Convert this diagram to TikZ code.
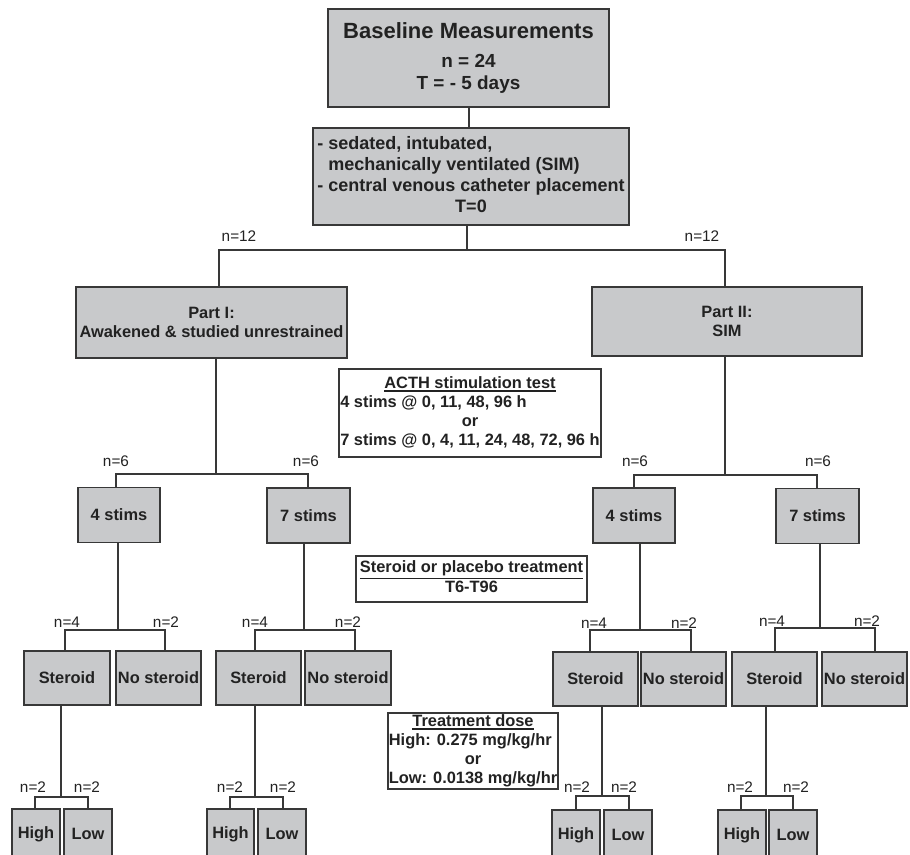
\documentclass[tikz,border=0pt]{standalone}
\usepackage{fontspec}
\setmainfont{Liberation Sans}
\definecolor{boxg}{HTML}{C8C9CB}
\definecolor{linec}{HTML}{383838}
\definecolor{txt}{HTML}{222222}
\newcommand\thickul[1]{\leavevmode\vtop{\hbox{#1}\kern1.1pt\hrule height 1.3pt}}
\tikzset{
  bw/.style={minimum width=#1*0.75pt},
  bh/.style={minimum height=#1*0.75pt},
  gbox/.style={draw=linec, fill=boxg, line width=1.3pt, inner sep=0pt, align=center, text=txt,
    font=\bfseries\fontsize{12.3}{14.25}\selectfont},
  wbox/.style={draw=linec, fill=white, line width=1.2pt, inner sep=0pt, text=txt,
    font=\bfseries\fontsize{12.3}{14.25}\selectfont},
  lbl/.style={inner sep=0pt, text=txt, font=\fontsize{11.5}{13}\selectfont},
  conn/.style={draw=linec, line width=1.1pt},
}
\begin{document}
\begin{tikzpicture}[x=0.75pt, y=-0.75pt]
\useasboundingbox (0,0) rectangle (910,855);
\clip (0,0) rectangle (910,855);

% ---------- top ----------
\node[gbox, bw=281, bh=98, font=\bfseries\fontsize{14.2}{16.5}\selectfont] (base) at (468.5,58)
  {{\fontsize{16.5}{20}\selectfont Baseline Measurements}\\[5.5pt] n = 24\\T = - 5 days};
\node[gbox, bw=316, bh=97, font=\bfseries\fontsize{13.5}{15.75}\selectfont] (sim) at (471,176.5)
  {\begin{tabular}{@{}l@{}}- sedated, intubated,\\\phantom{- }mechanically ventilated (SIM)\\- central venous catheter placement\\\multicolumn{1}{@{}c@{}}{T=0}\end{tabular}};
\draw[conn] (base.south -| 469,0) -- (sim.north -| 469,0);

\coordinate (j0) at (467,250);
\coordinate (dL) at (219,250);
\coordinate (dR) at (725,250);
\node[lbl] (n12a) at (239,236) {n=12};
\node[lbl] (n12b) at (702,236) {n=12};

% ---------- parts ----------
\node[gbox, bw=271, bh=71] (p1) at (211.5,322.5) {Part I:\\Awakened \& studied unrestrained};
\node[gbox, bw=270, bh=69] (p2) at (727,321.5) {Part II:\\SIM};
\draw[conn] (sim.south -| j0) -- (j0);
\draw[conn] (p1.north -| dL) -- (dL) -- (dR) -- (p2.north -| dR);

\node[wbox, bw=262, bh=88] (acth) at (470,413)
  {\begin{tabular}{@{}l@{}}\multicolumn{1}{@{}c@{}}{\thickul{ACTH stimulation test}}\\4 stims @ 0, 11, 48, 96 h\\\multicolumn{1}{@{}c@{}}{or}\\7 stims @ 0, 4, 11, 24, 48, 72, 96 h\end{tabular}};

% ---------- stims ----------
\node[gbox, bw=82, bh=55] (s1) at (119,515) {4 stims};
\node[gbox, bw=83, bh=55] (s2) at (308.5,515.5) {7 stims};
\node[gbox, bw=82, bh=55] (s3) at (634,515.5) {4 stims};
\node[gbox, bw=83, bh=55] (s4) at (817.5,516) {7 stims};

\coordinate (k1) at (216,474);
\coordinate (k1a) at (116,474);
\coordinate (k1b) at (308,474);
\draw[conn] (p1.south -| k1) -- (k1);
\draw[conn] (s1.north -| k1a) -- (k1a) -- (k1b) -- (s2.north -| k1b);
\coordinate (k2) at (725,475);
\coordinate (k2a) at (634,475);
\coordinate (k2b) at (817,475);
\draw[conn] (p2.south -| k2) -- (k2);
\draw[conn] (s3.north -| k2a) -- (k2a) -- (k2b) -- (s4.north -| k2b);
\node[lbl] (n6a) at (116,461) {n=6};
\node[lbl] (n6b) at (306,461) {n=6};
\node[lbl] (n6c) at (635,461) {n=6};
\node[lbl] (n6d) at (818,461) {n=6};

\node[wbox, bw=231, bh=46] (plac) at (471.5,579)
  {\begin{tabular}{@{}c@{}}\thickul{Steroid or placebo treatment}\\T6-T96\end{tabular}};

% ---------- steroid level ----------
\node[gbox, bw=86, bh=54] (st1) at (67,678) {Steroid};
\node[gbox, bw=85, bh=54] (ns1) at (158.5,678) {No steroid};
\node[gbox, bw=85, bh=54] (st2) at (258.5,678) {Steroid};
\node[gbox, bw=86, bh=54] (ns2) at (348,678) {No steroid};
\node[gbox, bw=85, bh=54] (st3) at (595.5,679) {Steroid};
\node[gbox, bw=85, bh=54] (ns3) at (683.5,679) {No steroid};
\node[gbox, bw=85, bh=54] (st4) at (774.5,679) {Steroid};
\node[gbox, bw=85, bh=54] (ns4) at (864.5,679) {No steroid};

\coordinate (m1) at (118,630);  \coordinate (m1a) at (65,630);  \coordinate (m1b) at (165,630);
\coordinate (m2) at (304,630);  \coordinate (m2a) at (255,630); \coordinate (m2b) at (355,630);
\coordinate (m3) at (640,630);  \coordinate (m3a) at (590,630); \coordinate (m3b) at (691,630);
\coordinate (m4) at (820,628);  \coordinate (m4a) at (775,628); \coordinate (m4b) at (875,628);
\draw[conn] (s1.south -| m1) -- (m1);
\draw[conn] (st1.north -| m1a) -- (m1a) -- (m1b) -- (ns1.north -| m1b);
\draw[conn] (s2.south -| m2) -- (m2);
\draw[conn] (st2.north -| m2a) -- (m2a) -- (m2b) -- (ns2.north -| m2b);
\draw[conn] (s3.south -| m3) -- (m3);
\draw[conn] (st3.north -| m3a) -- (m3a) -- (m3b) -- (ns3.north -| m3b);
\draw[conn] (s4.south -| m4) -- (m4);
\draw[conn] (st4.north -| m4a) -- (m4a) -- (m4b) -- (ns4.north -| m4b);
\node[lbl] (n4a) at (67,622) {n=4};
\node[lbl] (n2a) at (166,622) {n=2};
\node[lbl] (n4b) at (255,622) {n=4};
\node[lbl] (n2b) at (348,622) {n=2};
\node[lbl] (n4c) at (594,623) {n=4};
\node[lbl] (n2c) at (684,623) {n=2};
\node[lbl] (n4d) at (772,621) {n=4};
\node[lbl] (n2d) at (867,621) {n=2};

\node[wbox, bw=170, bh=75] (dose) at (473,751)
  {\begin{tabular}{@{}l@{}}\multicolumn{1}{@{}c@{}}{\thickul{Treatment dose}}\\High: 0.275 mg/kg/hr\\\multicolumn{1}{@{}c@{}}{or}\\Low: 0.0138 mg/kg/hr\end{tabular}};

% ---------- high / low ----------
\node[gbox, bw=48, bh=50] (h1) at (36,834) {High};
\node[gbox, bw=48, bh=50] (l1) at (88,834) {Low};
\node[gbox, bw=47, bh=50] (h2) at (230.5,834) {High};
\node[gbox, bw=48, bh=50] (l2) at (282,834) {Low};
\node[gbox, bw=48, bh=50] (h3) at (576,835) {High};
\node[gbox, bw=48, bh=50] (l3) at (628,835) {Low};
\node[gbox, bw=48, bh=50] (h4) at (742,835) {High};
\node[gbox, bw=48, bh=50] (l4) at (793,835) {Low};

\coordinate (q1) at (61,797);  \coordinate (q1a) at (35,797);  \coordinate (q1b) at (88,797);
\coordinate (q2) at (255,797); \coordinate (q2a) at (230,797); \coordinate (q2b) at (283,797);
\coordinate (q3) at (602,796); \coordinate (q3a) at (576,796); \coordinate (q3b) at (629,796);
\coordinate (q4) at (766,796); \coordinate (q4a) at (741,796); \coordinate (q4b) at (793,796);
\draw[conn] (st1.south -| q1) -- (q1);
\draw[conn] (h1.north -| q1a) -- (q1a) -- (q1b) -- (l1.north -| q1b);
\draw[conn] (st2.south -| q2) -- (q2);
\draw[conn] (h2.north -| q2a) -- (q2a) -- (q2b) -- (l2.north -| q2b);
\draw[conn] (st3.south -| q3) -- (q3);
\draw[conn] (h3.north -| q3a) -- (q3a) -- (q3b) -- (l3.north -| q3b);
\draw[conn] (st4.south -| q4) -- (q4);
\draw[conn] (h4.north -| q4a) -- (q4a) -- (q4b) -- (l4.north -| q4b);
\node[lbl] (n2e) at (33,787) {n=2};
\node[lbl] (n2f) at (87,787) {n=2};
\node[lbl] (n2g) at (230,787) {n=2};
\node[lbl] (n2h) at (283,787) {n=2};
\node[lbl] (n2i) at (577,787) {n=2};
\node[lbl] (n2j) at (624,787) {n=2};
\node[lbl] (n2k) at (740,787) {n=2};
\node[lbl] (n2l) at (796,787) {n=2};
\end{tikzpicture}
\end{document}
